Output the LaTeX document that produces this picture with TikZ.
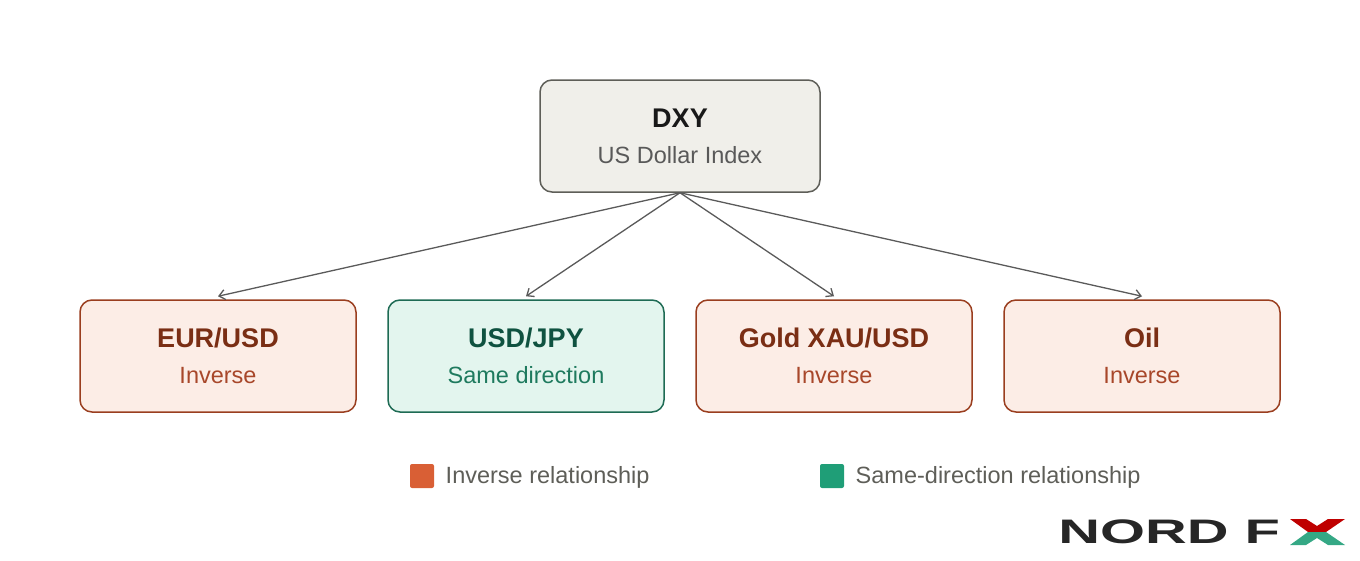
\documentclass[tikz,border=0pt]{standalone}
\usepackage{fontspec}
\setmainfont{Liberation Sans}
\usetikzlibrary{positioning,arrows.meta}
\definecolor{inverseFill}{HTML}{FCEDE6}
\definecolor{inverseLine}{HTML}{9A3E1F}
\definecolor{inverseText}{HTML}{7A2E14}
\definecolor{inverseSub}{HTML}{A8472A}
\definecolor{sameFill}{HTML}{E3F5EE}
\definecolor{sameLine}{HTML}{1E6B54}
\definecolor{sameText}{HTML}{0F5240}
\definecolor{sameSub}{HTML}{1E7A5E}
\definecolor{rootFill}{HTML}{F0EFEA}
\definecolor{rootLine}{HTML}{5E5E58}
\definecolor{arrowGray}{HTML}{5A5A5A}
\definecolor{legInverse}{HTML}{D95F35}
\definecolor{legSame}{HTML}{1F9E77}
\newcommand{\boxtext}[4]{{\fontsize{27}{32}\selectfont\bfseries\color{#1}#2}\\[18pt]{\fontsize{23.5}{28}\selectfont\color{#3}#4}}
\begin{document}
\begin{tikzpicture}[x=1pt,y=-1pt,
  box/.style={rounded corners=12pt, line width=1.5pt, minimum width=276pt, minimum height=112pt, align=center},
  inverse/.style={box, draw=inverseLine, fill=inverseFill},
  same/.style={box, draw=sameLine, fill=sameFill},
  link/.style={draw=arrowGray, line width=1.3pt, -{Straight Barb[length=6pt,width=10pt]}},
  legsq/.style={rounded corners=2pt, minimum size=24pt, inner sep=0pt},
  legtext/.style={right=8pt, font=\fontsize{23.5}{28}\selectfont, text=rootLine}]
  \useasboundingbox (0,0) rectangle (1360,560);
  %% root box
  \node[box, draw=rootLine, fill=rootFill, minimum width=280pt] (DXY) at (680,136)
    {\boxtext{black!90}{DXY}{black!65}{US Dollar Index}};
  %% children
  \node[inverse] (EUR) at (218,356) {\boxtext{inverseText}{EUR/USD}{inverseSub}{Inverse}};
  \node[same] (JPY) at (526,356) {\boxtext{sameText}{USD/JPY}{sameSub}{Same direction}};
  \node[inverse] (XAU) at (834,356) {\boxtext{inverseText}{Gold XAU/USD}{inverseSub}{Inverse}};
  \node[inverse] (OIL) at (1142,356) {\boxtext{inverseText}{Oil}{inverseSub}{Inverse}};
  %% connectors
  \foreach \n in {EUR,JPY,XAU,OIL}
    \draw[link] (DXY.south) -- ([yshift=3pt]\n.north);
  %% legend
  \node[legsq, fill=legInverse] (LI) at (422,476) {};
  \node[legtext] (LIT) at ([yshift=-1pt]LI.east) {Inverse relationship};
  \node[legsq, fill=legSame] (LS) at (832,476) {};
  \node[legtext] (LST) at ([yshift=-1pt]LS.east) {Same-direction relationship};
  %% logo
  \node[anchor=west, inner sep=0pt, font=\fontsize{34}{34}\selectfont\bfseries, text=black!85, xscale=1.7] (LOGO) at (1058,532) {NORD F};
  \fill[red!75!black] (1290,519) -- (1306,519) -- (1317,526) -- (1328,519) -- (1345,519) -- (1326,532) -- (1308,532) -- cycle;
  \fill[legSame!90] (1290,545) -- (1306,545) -- (1317,538) -- (1328,545) -- (1345,545) -- (1326,532) -- (1308,532) -- cycle;
\end{tikzpicture}
\end{document}
